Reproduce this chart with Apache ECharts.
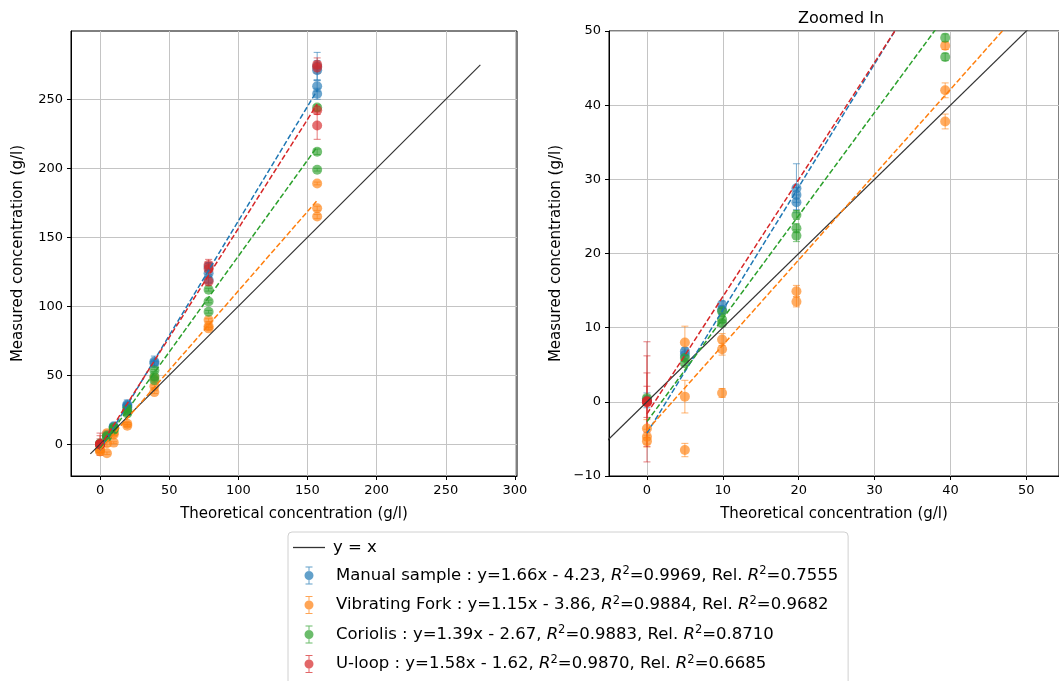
<!DOCTYPE html>
<html><head><meta charset="utf-8">
<script src="https://cdn.jsdelivr.net/npm/echarts@6/dist/echarts.min.js"></script>
<style>html,body{margin:0;padding:0;background:#fff}#c{width:1059px;height:681px}</style>
</head><body><div id="c"></div>
<script>
// ---------- data ----------
const sensorNames = ['Manual sample', 'Vibrating Fork', 'Coriolis', 'U-loop'];
const fitSlope = [1.66, 1.15, 1.39, 1.58];
const fitIntercept = [-4.23, -3.86, -2.67, -1.62];
const fitR2 = ['0.9969', '0.9884', '0.9883', '0.9870'];
const fitRelR2 = ['0.7555', '0.9682', '0.8710', '0.6685'];
const fitRangeX = [0, 157];
const identityRange = [-7, 275];

const manualX = [0, 5, 5, 9.9, 9.9, 19.7, 19.7, 19.7, 39.3, 39.3, 78.5, 78.5, 78.5, 157, 157, 157, 157];
const manualY = [0.2, 6.8, 6.3, 13.1, 12.4, 28.8, 27.9, 26.9, 59.9, 58.7, 128.7, 124, 119, 274, 271, 259.5, 254];
const manualErr = [1, 0.5, 0.8, 0.5, 0.5, 3.3, 1, 1, 4, 1.5, 3, 2, 2, 10, 7, 4, 4];

const forkX = [0, 0, 0, 5, 5, 5, 9.9, 9.9, 9.9, 19.7, 19.7, 39.3, 39.3, 39.3, 78.5, 78.5, 78.5, 157, 157, 157];
const forkY = [-3.6, -4.7, -5.3, 8.0, 0.7, -6.5, 8.4, 7.1, 1.2, 14.9, 13.5, 48.0, 42.0, 37.8, 90, 85.5, 84, 189, 171, 165];
const forkErr = [1.2, 1, 0.8, 2.2, 2.2, 0.9, 0.8, 0.8, 0.6, 0.8, 0.7, 0.5, 1, 1, 1, 1, 1, 1, 1.5, 1.5];

const coriolisX = [0, 5, 5, 9.9, 9.9, 9.9, 19.7, 19.7, 19.7, 39.3, 39.3, 39.3, 78.5, 78.5, 78.5, 157, 157, 157];
const coriolisY = [0.5, 5.9, 5.2, 12.2, 11.1, 10.6, 25.2, 23.4, 22.4, 53.5, 49.1, 46.5, 112, 103.5, 96, 244, 212, 199];
const coriolisErr = [0.3, 0.3, 0.3, 0.4, 0.4, 0.4, 0.6, 0.6, 0.8, 0.8, 0.5, 0.5, 1, 1, 1, 2, 2, 1];

const uloopX = [0, 0, 0, 0, 78.5, 78.5, 78.5, 157, 157, 157, 157];
const uloopY = [0, 0.1, -0.1, 0, 130, 127, 118, 275, 273, 242, 231];
const uloopErr = [8.1, 6.1, 4, 2.1, 4, 4, 3, 5, 4, 3, 10];

const leftXTicks = [0, 50, 100, 150, 200, 250, 300];
const leftYTicks = [0, 50, 100, 150, 200, 250];
const rightXTicks = [0, 10, 20, 30, 40, 50];
const rightYTicks = [-10, 0, 10, 20, 30, 40, 50];

// ---------- styling ----------
const colors = ['#1f77b4', '#ff7f0e', '#2ca02c', '#d62728'];
const FONT = 'DejaVu Sans';
const sensorX = [manualX, forkX, coriolisX, uloopX];
const sensorY = [manualY, forkY, coriolisY, uloopY];
const sensorErr = [manualErr, forkErr, coriolisErr, uloopErr];

function minus(v) { return String(v).replace('-', '\u2212'); }

function makeAxis(gridIndex, min, max, step, ticks, name, nameGap) {
  return {
    type: 'value', gridIndex, min, max,
    minInterval: step, maxInterval: step,
    name, nameLocation: 'middle', nameGap,
    nameTextStyle: { fontFamily: FONT, fontSize: 15, color: '#000' },
    axisLine: { show: true, onZero: false, lineStyle: { color: '#000', width: 1 } },
    axisTick: { show: true, length: 4, lineStyle: { color: '#000' }, customValues: ticks },
    axisLabel: {
      fontFamily: FONT, fontSize: 13, color: '#000', margin: 8,
      customValues: ticks,
      formatter: v => (ticks.indexOf(v) >= 0 ? minus(v) : '')
    },
    splitLine: { show: true, lineStyle: { color: '#c4c4c4', width: 1 } }
  };
}

const xAxes = [
  makeAxis(0, -21, 301.5, 50, leftXTicks, 'Theoretical concentration (g/l)', 31),
  makeAxis(1, -5, 54.3, 10, rightXTicks, 'Theoretical concentration (g/l)', 31)
];
const yAxes = [
  makeAxis(0, -23, 299.5, 50, leftYTicks, 'Measured concentration (g/l)', 45),
  makeAxis(1, -10, 50, 10, rightYTicks, 'Measured concentration (g/l)', 45)
];

function errRender(color) {
  return function (params, api) {
    const x = api.value(0), y = api.value(1), e = api.value(2);
    const top = api.coord([x, y + e]);
    const bot = api.coord([x, y - e]);
    const cap = 3.5;
    const style = { stroke: color, lineWidth: 1, opacity: 0.6 };
    return {
      type: 'group',
      children: [
        { type: 'line', shape: { x1: top[0], y1: top[1], x2: bot[0], y2: bot[1] }, style },
        { type: 'line', shape: { x1: top[0] - cap, y1: top[1], x2: top[0] + cap, y2: top[1] }, style },
        { type: 'line', shape: { x1: bot[0] - cap, y1: bot[1], x2: bot[0] + cap, y2: bot[1] }, style }
      ]
    };
  };
}

const series = [];
for (let g = 0; g < 2; g++) {
  series.push({
    name: 'y = x', type: 'line', xAxisIndex: g, yAxisIndex: g, silent: true,
    symbol: 'none', clip: true,
    data: identityRange.map(v => [v, v]),
    lineStyle: { color: '#333', width: 1.2 }, z: 3
  });
  for (let i = 0; i < 4; i++) {
    const pts = sensorX[i].map((x, k) => [x, sensorY[i][k], sensorErr[i][k]]);
    series.push({
      name: sensorNames[i], type: 'custom', xAxisIndex: g, yAxisIndex: g, clip: true, silent: true,
      renderItem: errRender(colors[i]), data: pts, z: 2,
      encode: { x: 0, y: 1 }
    });
    series.push({
      name: sensorNames[i], type: 'scatter', xAxisIndex: g, yAxisIndex: g, clip: true, silent: true,
      symbol: 'circle', symbolSize: 10,
      itemStyle: { color: colors[i], opacity: 0.65 },
      data: pts.map(p => [p[0], p[1]]), z: 2
    });
    series.push({
      name: sensorNames[i] + ' fit', type: 'line', xAxisIndex: g, yAxisIndex: g, silent: true,
      symbol: 'none', clip: true,
      data: fitRangeX.map(x => [x, fitSlope[i] * x + fitIntercept[i]]),
      lineStyle: { color: colors[i], width: 1.5, type: [5.5, 2.4] }, z: 3
    });
  }
}

const errIcon = 'path://M4.5,0H5.5V18H4.5Z M1.5,0H8.5V1H1.5Z M1.5,17H8.5V18H1.5Z M5,4.5A4.5,4.5,0,1,1,4.99,4.5Z';
const legendData = [{ name: 'y = x', icon: 'path://M0,0H32V1.3H0Z', itemStyle: { color: '#333' }, textStyle: { lineHeight: 14, padding: [0, 0, 0, 3] } }]
  .concat(sensorNames.map((n, i) => ({ name: n, icon: errIcon, itemStyle: { color: colors[i], opacity: 0.7 } })));

const option = {
  animation: false,
  backgroundColor: '#fff',
  title: {
    text: 'Zoomed In', left: 836, top: 6, textAlign: 'center',
    textStyle: { fontFamily: FONT, fontSize: 16, fontWeight: 'normal', color: '#000' }
  },
  grid: [
    { left: 71, top: 31, width: 446, height: 445, show: true, borderColor: '#000', borderWidth: 1, containLabel: false },
    { left: 609, top: 31, right: 0, height: 445, show: true, borderColor: '#000', borderWidth: 1, containLabel: false }
  ],
  xAxis: xAxes,
  yAxis: yAxes,
  legend: {
    orient: 'vertical', left: 288, top: 532, height: 220,
    backgroundColor: '#fff', borderColor: '#d0d0d0', borderWidth: 1, borderRadius: 4,
    padding: [7, 10, 14, 5], itemGap: 9.5, itemWidth: 32, itemHeight: 18,
    selectedMode: false,
    data: legendData,
    textStyle: {
      fontFamily: FONT, fontSize: 16.5, color: '#000', lineHeight: 20, padding: [0, 0, 0, 6],
      rich: {
        i: { fontFamily: FONT, fontSize: 16.5, fontStyle: 'italic', color: '#000', lineHeight: 20 },
        s: { fontFamily: FONT, fontSize: 11.5, color: '#000', lineHeight: 13, verticalAlign: 'top' }
      }
    },
    formatter: function (name) {
      const i = sensorNames.indexOf(name);
      if (i < 0) return name;
      const b = fitIntercept[i];
      return name + ' : y=' + fitSlope[i].toFixed(2) + 'x ' + (b < 0 ? '-' : '+') + ' ' + Math.abs(b).toFixed(2) +
        ', {i|R}{s|2}=' + fitR2[i] + ', Rel. {i|R}{s|2}=' + fitRelR2[i];
    }
  },
  series
};

const chart = echarts.init(document.getElementById('c'), null, { renderer: 'canvas' });
chart.setOption(option);
</script>
</body></html>
